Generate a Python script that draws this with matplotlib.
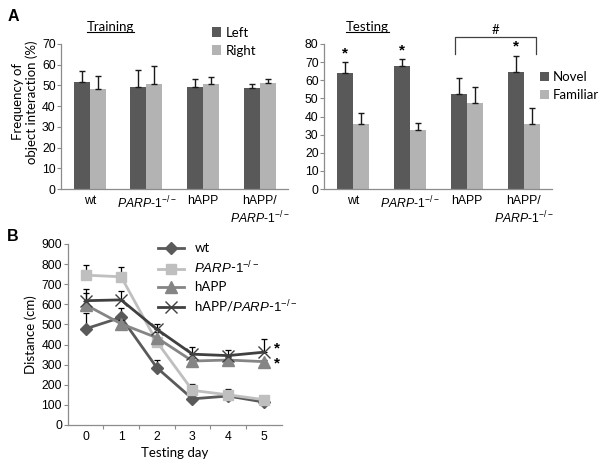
import numpy as np
import matplotlib
matplotlib.use('Agg')
import matplotlib.pyplot as plt
from matplotlib.lines import Line2D

# fonts: Arial-like for numbers, Calibri-like for the rest
plt.rcParams['font.family'] = ['Liberation Sans', 'DejaVu Sans']
plt.rcParams['mathtext.fontset'] = 'custom'
plt.rcParams['mathtext.rm'] = 'Liberation Sans'
plt.rcParams['mathtext.it'] = 'Liberation Sans:italic'
CAL = ['Lato', 'DejaVu Sans']

# ---- data ----
parp_lbl = r'$\mathit{PARP}$-$\mathit{1}^{\mathit{-/-}}$'
groups = ['wt', parp_lbl, 'hAPP', 'hAPP/\n' + parp_lbl]

train_left = [51.5, 49.2, 49.4, 48.9]
train_left_err = [5.6, 8.4, 3.6, 1.9]
train_right = [48.5, 50.8, 50.6, 51.1]
train_right_err = [5.9, 8.6, 3.6, 1.8]

test_novel = [64.2, 67.6, 52.6, 64.3]
test_novel_err = [5.7, 4.0, 8.4, 9.1]
test_familiar = [35.8, 32.4, 47.4, 35.7]
test_familiar_err = [6.0, 3.8, 8.7, 9.2]

days = [0, 1, 2, 3, 4, 5]
dist_wt = [478, 535, 285, 130, 144, 114]
dist_wt_err = [78, 45, 38, 10, 12, 8]
dist_parp = [745, 737, 414, 172, 150, 126]
dist_parp_err = [52, 48, 20, 32, 28, 10]
dist_happ = [598, 503, 434, 318, 323, 315]
dist_happ_err = [58, 17, 30, 15, 15, 10]
dist_hp = [618, 622, 476, 352, 345, 362]
dist_hp_err = [58, 43, 28, 36, 30, 64]

DARK = '#595959'
LIGHT = '#b3b3b3'
SPINE = '#8c8c8c'

fig = plt.figure(figsize=(6, 4.71), dpi=100)
ax1 = fig.add_axes([0.1022, 0.5987, 0.378, 0.3079])
ax2 = fig.add_axes([0.5405, 0.5987, 0.38, 0.3079])
ax3 = fig.add_axes([0.1128, 0.0977, 0.3565, 0.3843])


def style(ax):
    for s in ['top', 'right']:
        ax.spines[s].set_visible(False)
    for s in ['left', 'bottom']:
        ax.spines[s].set_color(SPINE)
        ax.spines[s].set_linewidth(0.9)
    ax.tick_params(axis='y', length=2.6, width=0.8, color=SPINE, pad=1.5, labelsize=8.8)
    ax.tick_params(axis='x', length=0, pad=4, labelsize=8.8)


def bars(ax, a, a_err, b, b_err, la, lb):
    x = np.arange(len(a))
    w = 0.28
    ax.bar(x - w / 2, a, w, color=DARK, label=la)
    ax.bar(x + w / 2, b, w, color=LIGHT, label=lb)
    ax.errorbar(x - w / 2, a, yerr=[np.zeros(len(a)), a_err], fmt='none',
                ecolor='#1a1a1a', elinewidth=1, capsize=2.3, capthick=1)
    ax.errorbar(x + w / 2, b, yerr=[np.zeros(len(b)), b_err], fmt='none',
                ecolor='#1a1a1a', elinewidth=1, capsize=2.3, capthick=1)
    ax.set_xlim(-0.5, len(a) - 0.5)
    ax.set_xticks(x, groups)
    style(ax)


# ---- A: training ----
bars(ax1, train_left, train_left_err, train_right, train_right_err, 'Left', 'Right')
ax1.set_ylim(0, 70)
ax1.set_yticks(np.arange(0, 71, 10))
ax1.set_ylabel('Frequency of\nobject interaction (%)', fontsize=9.5, family=CAL,
               linespacing=1.05)
ax1.yaxis.set_label_coords(-0.105, 0.6)
ax1.legend(loc='upper left', bbox_to_anchor=(0.665, 1.12), frameon=False,
           handlelength=0.7, handleheight=0.7, handletextpad=0.3,
           labelspacing=0.45, borderaxespad=0, borderpad=0,
           prop={'family': CAL, 'size': 9.5})

# ---- A: testing ----
bars(ax2, test_novel, test_novel_err, test_familiar, test_familiar_err, 'Novel', 'Familiar')
ax2.set_ylim(0, 80)
ax2.set_yticks(np.arange(0, 81, 10))
ax2.legend(loc='upper left', bbox_to_anchor=(0.946, 0.815), frameon=False,
           handlelength=0.7, handleheight=0.7, handletextpad=0.3,
           labelspacing=0.45, borderaxespad=0, borderpad=0,
           prop={'family': CAL, 'size': 9.5})

# significance marks
for i in [0, 1, 3]:
    ax2.text(i - 0.14, test_novel[i] + test_novel_err[i] + 5, '*', ha='center',
             va='center', fontsize=11, fontweight='bold')
ax2.plot([1.79, 1.79, 3.21, 3.21], [74.5, 83.7, 83.7, 74.5], color='#404040',
         lw=0.9, clip_on=False)
ax2.text(2.5, 87.5, '#', ha='center', va='center', fontsize=9.5, family=CAL)

# ---- B: distance ----
series = [
    (dist_wt, dist_wt_err, '#5a5a5a', 'D', 6, 'wt'),
    (dist_parp, dist_parp_err, '#bfbfbf', 's', 7.5, parp_lbl),
    (dist_happ, dist_happ_err, '#858585', '^', 8, 'hAPP'),
    (dist_hp, dist_hp_err, '#404040', 'x', 9, 'hAPP/' + parp_lbl),
]
handles = []
for vals, err, col, mk, ms, lbl in series:
    ax3.errorbar(days, vals, yerr=[np.zeros(6), err], fmt='none', ecolor='black',
                 elinewidth=0.9, capsize=2.5, capthick=0.9)
    ln, = ax3.plot(days, vals, color=col, marker=mk, ms=ms, lw=2, mew=1,
                   label=lbl)
    handles.append(ln)
ax3.set_xlim(-0.5, 5.5)
ax3.set_ylim(0, 900)
ax3.set_yticks(np.arange(0, 901, 100))
ax3.set_xticks(days)
ax3.set_xticks(np.arange(0.5, 5, 1), minor=True)
style(ax3)
ax3.tick_params(axis='x', which='minor', length=3, width=0.8, color=SPINE)
ax3.set_xlabel('Testing day', fontsize=9.5, family=CAL, labelpad=3)
ax3.set_ylabel('Distance (cm)', fontsize=9.5, family=CAL, labelpad=3)
ax3.text(5.37, 378, '*', ha='center', va='center', fontsize=11, fontweight='bold')
ax3.text(5.37, 307, '*', ha='center', va='center', fontsize=11, fontweight='bold')
ax3.legend(handles=handles, loc='upper left', bbox_to_anchor=(0.42, 1.01),
           frameon=False, handlelength=2.0, handletextpad=0.8, labelspacing=0.4,
           borderaxespad=0, borderpad=0, prop={'family': CAL, 'size': 9.5})

# panel letters and titles
fig.text(0.012, 0.964, 'A', fontsize=11.5, fontweight='bold', va='center')
fig.text(0.012, 0.497, 'B', fontsize=11.5, fontweight='bold', va='center')
t1 = fig.text(0.145, 0.943, 'Training', fontsize=9.5, family=CAL, va='center')
t2 = fig.text(0.577, 0.943, 'Testing', fontsize=9.5, family=CAL, va='center')

# underline the titles
fig.canvas.draw()
inv = fig.transFigure.inverted()
for t in [t1, t2]:
    bb = t.get_window_extent().transformed(inv)
    fig.add_artist(Line2D([bb.x0, bb.x1], [bb.y0 + 0.002, bb.y0 + 0.002],
                          color='black', lw=0.8, transform=fig.transFigure))

fig.savefig('out.png', dpi=100)
